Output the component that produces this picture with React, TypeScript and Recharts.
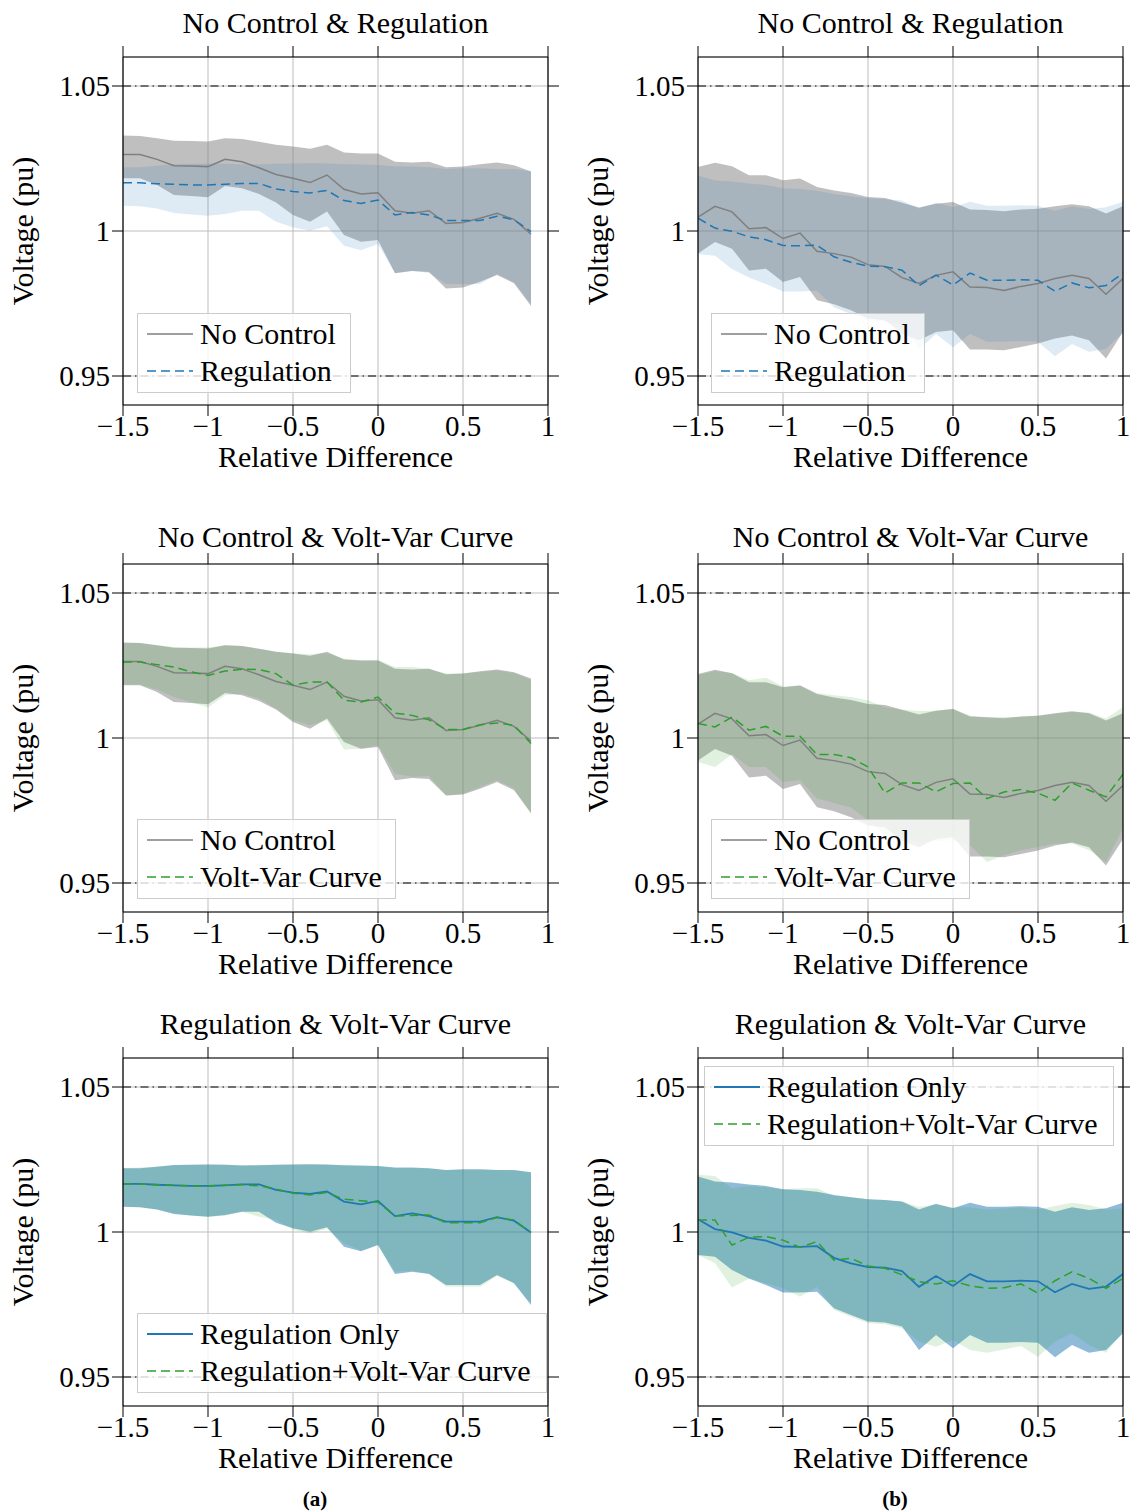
import React from 'react';
import {
  ComposedChart,
  Area,
  Line,
  XAxis,
  YAxis,
  CartesianGrid,
  ReferenceLine,
  Legend,
} from 'recharts';

const FONT = "'Liberation Serif', 'Times New Roman', serif";
const FS_TICK = 29;
const FS = 30;

// Relative difference sample points
const X_LEFT = [-1.5, -1.4, -1.3, -1.2, -1.1, -1.0, -0.9, -0.8, -0.7, -0.6, -0.5, -0.4, -0.3, -0.2, -0.1, 0.0, 0.1, 0.2, 0.3, 0.4, 0.5, 0.6, 0.7, 0.8, 0.9];
const X_RIGHT = [-1.5, -1.4, -1.3, -1.2, -1.1, -1.0, -0.9, -0.8, -0.7, -0.6, -0.5, -0.4, -0.3, -0.2, -0.1, 0.0, 0.1, 0.2, 0.3, 0.4, 0.5, 0.6, 0.7, 0.8, 0.9, 1.0];

const X_TICKS = [-1.5, -1, -0.5, 0, 0.5, 1];
const Y_TICKS = [0.95, 1, 1.05];
const Y_DOMAIN: [number, number] = [0.94, 1.06];
const V_MAX = 1.05;
const V_MIN = 0.95;

// ---- case (a) ----
const NC_A_MEAN = [1.0264, 1.0264, 1.0247, 1.0225, 1.0224, 1.0222, 1.0247, 1.0239, 1.0218, 1.0195, 1.0182, 1.0167, 1.0193, 1.0144, 1.0128, 1.0132, 1.0070, 1.0061, 1.0070, 1.0026, 1.0029, 1.0044, 1.0061, 1.0040, 0.9989];
const NC_A_HI = [1.0329, 1.0328, 1.0320, 1.0311, 1.0310, 1.0309, 1.0320, 1.0317, 1.0308, 1.0297, 1.0291, 1.0284, 1.0297, 1.0271, 1.0267, 1.0267, 1.0239, 1.0236, 1.0239, 1.0220, 1.0222, 1.0230, 1.0236, 1.0227, 1.0205];
const NC_A_LO = [1.0182, 1.0182, 1.0159, 1.0124, 1.0121, 1.0116, 1.0155, 1.0147, 1.0128, 1.0098, 1.0055, 1.0032, 1.0067, 0.9986, 0.9963, 0.9969, 0.9854, 0.9862, 0.9859, 0.9802, 0.9805, 0.9825, 0.9848, 0.9820, 0.9741];

const REG_A_MEAN = [1.0166, 1.0166, 1.0163, 1.0161, 1.0159, 1.0159, 1.0161, 1.0164, 1.0164, 1.0145, 1.0136, 1.0131, 1.0140, 1.0105, 1.0095, 1.0107, 1.0055, 1.0064, 1.0055, 1.0036, 1.0036, 1.0036, 1.0051, 1.0039, 0.9998];
const REG_A_HI = [1.0220, 1.0220, 1.0225, 1.0231, 1.0232, 1.0233, 1.0232, 1.0229, 1.0230, 1.0232, 1.0233, 1.0234, 1.0233, 1.0230, 1.0229, 1.0228, 1.0222, 1.0222, 1.0220, 1.0214, 1.0216, 1.0216, 1.0214, 1.0214, 1.0206];
const REG_A_LO = [1.0087, 1.0085, 1.0078, 1.0062, 1.0057, 1.0053, 1.0059, 1.0070, 1.0070, 1.0032, 1.0013, 1.0001, 1.0016, 0.9949, 0.9934, 0.9955, 0.9855, 0.9863, 0.9855, 0.9817, 0.9817, 0.9817, 0.9852, 0.9823, 0.9748];

const VV_A_MEAN = [1.0262, 1.0262, 1.0253, 1.0245, 1.0228, 1.0216, 1.0231, 1.0237, 1.0236, 1.0222, 1.0182, 1.0193, 1.0193, 1.0130, 1.0124, 1.0141, 1.0086, 1.0078, 1.0063, 1.0029, 1.0029, 1.0046, 1.0052, 1.0044, 0.9981];
const VV_A_HI = [1.0328, 1.0328, 1.0320, 1.0314, 1.0312, 1.0312, 1.0320, 1.0317, 1.0308, 1.0297, 1.0292, 1.0289, 1.0292, 1.0274, 1.0268, 1.0270, 1.0245, 1.0245, 1.0239, 1.0222, 1.0222, 1.0228, 1.0233, 1.0224, 1.0201];
const VV_A_LO = [1.0184, 1.0184, 1.0167, 1.0141, 1.0124, 1.0105, 1.0147, 1.0153, 1.0136, 1.0101, 1.0061, 1.0044, 1.0061, 0.9960, 0.9963, 0.9975, 0.9877, 0.9866, 0.9869, 0.9802, 0.9808, 0.9831, 0.9854, 0.9826, 0.9737];

const RVV_A_MEAN = [1.0166, 1.0165, 1.0163, 1.0161, 1.0159, 1.0159, 1.0161, 1.0163, 1.0159, 1.0148, 1.0134, 1.0128, 1.0136, 1.0113, 1.0108, 1.0103, 1.0055, 1.0057, 1.0059, 1.0032, 1.0032, 1.0032, 1.0050, 1.0041, 0.9998];
const RVV_A_HI = [1.0221, 1.0222, 1.0226, 1.0230, 1.0232, 1.0233, 1.0233, 1.0230, 1.0231, 1.0232, 1.0233, 1.0233, 1.0232, 1.0229, 1.0228, 1.0227, 1.0221, 1.0221, 1.0219, 1.0213, 1.0215, 1.0215, 1.0214, 1.0213, 1.0205];
const RVV_A_LO = [1.0087, 1.0085, 1.0078, 1.0064, 1.0057, 1.0053, 1.0056, 1.0070, 1.0053, 1.0041, 1.0009, 0.9995, 1.0012, 0.9961, 0.9936, 0.9955, 0.9863, 0.9866, 0.9857, 0.9811, 0.9811, 0.9811, 0.9848, 0.9823, 0.9754];

// ---- case (b) ----
const NC_B_MEAN = [1.0048, 1.0085, 1.0066, 1.0008, 1.0012, 0.9974, 0.9993, 0.9930, 0.9922, 0.9910, 0.9884, 0.9878, 0.9839, 0.9819, 0.9847, 0.9859, 0.9807, 0.9805, 0.9795, 0.9809, 0.9819, 0.9836, 0.9847, 0.9836, 0.9782, 0.9836];
const NC_B_HI = [1.0221, 1.0235, 1.0223, 1.0192, 1.0192, 1.0175, 1.0181, 1.0152, 1.0140, 1.0131, 1.0117, 1.0114, 1.0097, 1.0081, 1.0094, 1.0100, 1.0074, 1.0072, 1.0068, 1.0074, 1.0077, 1.0085, 1.0092, 1.0085, 1.0060, 1.0085];
const NC_B_LO = [0.9922, 0.9962, 0.9939, 0.9864, 0.9870, 0.9824, 0.9841, 0.9761, 0.9747, 0.9727, 0.9698, 0.9692, 0.9646, 0.9623, 0.9652, 0.9658, 0.9591, 0.9591, 0.9589, 0.9600, 0.9612, 0.9629, 0.9640, 0.9623, 0.9560, 0.9652];

const REG_B_MEAN = [1.0044, 1.0010, 0.9999, 0.9980, 0.9970, 0.9950, 0.9949, 0.9951, 0.9911, 0.9892, 0.9879, 0.9877, 0.9865, 0.9811, 0.9848, 0.9814, 0.9855, 0.9830, 0.9830, 0.9832, 0.9830, 0.9792, 0.9821, 0.9804, 0.9812, 0.9855];
const REG_B_HI = [1.0191, 1.0174, 1.0171, 1.0164, 1.0159, 1.0147, 1.0145, 1.0139, 1.0128, 1.0120, 1.0113, 1.0110, 1.0105, 1.0078, 1.0097, 1.0082, 1.0101, 1.0087, 1.0087, 1.0089, 1.0087, 1.0070, 1.0085, 1.0076, 1.0082, 1.0101];
const REG_B_LO = [0.9921, 0.9915, 0.9869, 0.9840, 0.9817, 0.9791, 0.9791, 0.9794, 0.9737, 0.9714, 0.9691, 0.9688, 0.9674, 0.9593, 0.9645, 0.9599, 0.9645, 0.9618, 0.9618, 0.9621, 0.9618, 0.9568, 0.9610, 0.9584, 0.9593, 0.9651];

const VV_B_MEAN = [1.0050, 1.0038, 1.0072, 1.0027, 1.0040, 1.0006, 1.0006, 0.9943, 0.9943, 0.9932, 0.9900, 0.9810, 0.9845, 0.9845, 0.9814, 0.9843, 0.9845, 0.9791, 0.9814, 0.9822, 0.9810, 0.9785, 0.9845, 0.9820, 0.9797, 0.9875];
const VV_B_HI = [1.0216, 1.0231, 1.0224, 1.0199, 1.0208, 1.0178, 1.0182, 1.0155, 1.0147, 1.0141, 1.0130, 1.0105, 1.0098, 1.0093, 1.0094, 1.0101, 1.0078, 1.0067, 1.0072, 1.0073, 1.0078, 1.0084, 1.0090, 1.0088, 1.0067, 1.0107];
const VV_B_LO = [0.9917, 0.9900, 0.9944, 0.9900, 0.9900, 0.9848, 0.9854, 0.9791, 0.9776, 0.9760, 0.9716, 0.9664, 0.9659, 0.9641, 0.9645, 0.9647, 0.9630, 0.9572, 0.9596, 0.9613, 0.9624, 0.9636, 0.9636, 0.9613, 0.9572, 0.9688];

const RVV_B_MEAN = [1.0041, 1.0041, 0.9955, 0.9982, 0.9984, 0.9972, 0.9947, 0.9967, 0.9903, 0.9909, 0.9883, 0.9875, 0.9852, 0.9829, 0.9821, 0.9832, 0.9814, 0.9806, 0.9808, 0.9821, 0.9789, 0.9832, 0.9863, 0.9840, 0.9806, 0.9840];
const RVV_B_HI = [1.0197, 1.0193, 1.0151, 1.0159, 1.0154, 1.0147, 1.0151, 1.0151, 1.0124, 1.0120, 1.0113, 1.0110, 1.0105, 1.0087, 1.0093, 1.0085, 1.0085, 1.0078, 1.0081, 1.0085, 1.0078, 1.0090, 1.0101, 1.0093, 1.0078, 1.0081];
const RVV_B_LO = [0.9921, 0.9892, 0.9809, 0.9840, 0.9823, 0.9806, 0.9777, 0.9811, 0.9731, 0.9708, 0.9685, 0.9682, 0.9668, 0.9622, 0.9604, 0.9628, 0.9593, 0.9584, 0.9595, 0.9607, 0.9570, 0.9622, 0.9651, 0.9610, 0.9584, 0.9656];

const GRAY = '#7f7f7f';
const BLUE = '#1f77b4';
const GREEN = '#2ca02c';
const GRID = '#bdbdbd';
const DASH = '9 5';
const DASH_DOT = '8 4 1.5 4';

type Series = {
  name: string;
  mean: number[];
  lo: number[];
  hi: number[];
  color: string;
  bandOpacity: number;
  dashed: boolean;
  width: number;
};

type Panel = {
  title: string;
  col: number;
  plotTop: number;
  titleGap: number;
  xs: number[];
  a: Series;
  b: Series;
  legend: { left: number; top: number; width: number };
};

const ser = (
  name: string, mean: number[], lo: number[], hi: number[],
  color: string, bandOpacity: number, dashed: boolean, width = 1.5,
): Series => ({ name, mean, lo, hi, color, bandOpacity, dashed, width });

const CHART_W = 565;
const PLOT_OFFSET = 57; // distance from chart top to plot top
const TOP_AXIS_H = 1;
const RIGHT_AXIS_W = 1;
const PLOT_W = 425;
const PLOT_H = 348;
const X_AXIS_H = 75;
const CHART_H = PLOT_OFFSET + PLOT_H + X_AXIS_H;

// legend positions are given relative to the plot's top-left corner
const PANELS: Panel[] = [
  {
    title: 'No Control & Regulation', col: 0, plotTop: 57, titleGap: 24, xs: X_LEFT,
    a: ser('No Control', NC_A_MEAN, NC_A_LO, NC_A_HI, GRAY, 0.5, false),
    b: ser('Regulation', REG_A_MEAN, REG_A_LO, REG_A_HI, BLUE, 0.15, true),
    legend: { left: 14, top: 256, width: 214 },
  },
  {
    title: 'No Control & Regulation', col: 1, plotTop: 57, titleGap: 24, xs: X_RIGHT,
    a: ser('No Control', NC_B_MEAN, NC_B_LO, NC_B_HI, GRAY, 0.5, false),
    b: ser('Regulation', REG_B_MEAN, REG_B_LO, REG_B_HI, BLUE, 0.15, true),
    legend: { left: 13, top: 256, width: 214 },
  },
  {
    title: 'No Control & Volt-Var Curve', col: 0, plotTop: 564, titleGap: 17, xs: X_LEFT,
    a: ser('No Control', NC_A_MEAN, NC_A_LO, NC_A_HI, GRAY, 0.5, false),
    b: ser('Volt-Var Curve', VV_A_MEAN, VV_A_LO, VV_A_HI, GREEN, 0.15, true),
    legend: { left: 14, top: 255, width: 259 },
  },
  {
    title: 'No Control & Volt-Var Curve', col: 1, plotTop: 564, titleGap: 17, xs: X_RIGHT,
    a: ser('No Control', NC_B_MEAN, NC_B_LO, NC_B_HI, GRAY, 0.5, false),
    b: ser('Volt-Var Curve', VV_B_MEAN, VV_B_LO, VV_B_HI, GREEN, 0.15, true),
    legend: { left: 13, top: 255, width: 259 },
  },
  {
    title: 'Regulation & Volt-Var Curve', col: 0, plotTop: 1058, titleGap: 24, xs: X_LEFT,
    a: ser('Regulation Only', REG_A_MEAN, REG_A_LO, REG_A_HI, BLUE, 0.5, false, 1.8),
    b: ser('Regulation+Volt-Var Curve', RVV_A_MEAN, RVV_A_LO, RVV_A_HI, GREEN, 0.15, true),
    legend: { left: 14, top: 255, width: 410 },
  },
  {
    title: 'Regulation & Volt-Var Curve', col: 1, plotTop: 1058, titleGap: 24, xs: X_RIGHT,
    a: ser('Regulation Only', REG_B_MEAN, REG_B_LO, REG_B_HI, BLUE, 0.5, false, 1.8),
    b: ser('Regulation+Volt-Var Curve', RVV_B_MEAN, RVV_B_LO, RVV_B_HI, GREEN, 0.15, true),
    legend: { left: 6, top: 8, width: 410 },
  },
];

const fmtX = (v: number) => (v < 0 ? '\u2212' + String(Math.abs(v)) : String(v));
const fmtY = (v: number) => String(v);
const noLabel = () => '';

const tickStyle = { fontFamily: FONT, fontSize: FS_TICK, fill: '#000' };
const textStyle = { fontFamily: FONT, fontSize: FS, fill: '#000' };

const LegendBox = ({ items, width }: { items: Series[]; width: number }) => (
  <div
    style={{
      boxSizing: 'border-box',
      width,
      height: 80,
      border: '1.3px solid #cccccc',
      background: 'rgba(255,255,255,0.8)',
      padding: '1px 0 0 8px',
      fontFamily: FONT,
      fontSize: FS,
      color: '#000',
    }}
  >
    {items.map((s) => (
      <div key={s.name} style={{ display: 'flex', alignItems: 'center', height: 37, whiteSpace: 'nowrap' }}>
        <svg width={48} height={10} style={{ flex: 'none' }}>
          <line x1={1} x2={47} y1={5} y2={5} stroke={s.color} strokeWidth={s.width}
            strokeDasharray={s.dashed ? DASH : undefined} />
        </svg>
        <span style={{ marginLeft: 6, lineHeight: '37px' }}>{s.name}</span>
      </div>
    ))}
  </div>
);

const PanelChart = ({ p }: { p: Panel }) => {
  const yAxisW = p.col === 0 ? 123 : 133;
  const rightM = CHART_W - yAxisW - PLOT_W - RIGHT_AXIS_W;
  const rows = p.xs.map((x, i) => ({
    x,
    aMean: p.a.mean[i],
    bMean: p.b.mean[i],
    aBand: [p.a.lo[i], p.a.hi[i]],
    bBand: [p.b.lo[i], p.b.hi[i]],
  }));
  const x0 = p.xs[0];
  const x1 = p.xs[p.xs.length - 1];

  // x-axis caption below the plot and the panel title above it
  const xLabel = (props: any) => {
    const vb = props.viewBox;
    const cx = vb.x + vb.width / 2;
    return (
      <g>
        <text x={cx} y={vb.y + 62} textAnchor="middle" style={textStyle}>
          Relative Difference
        </text>
        <text x={cx} y={vb.y - PLOT_H - p.titleGap} textAnchor="middle" style={textStyle}>
          {p.title}
        </text>
      </g>
    );
  };
  const yLabel = (props: any) => {
    const vb = props.viewBox;
    const bx = vb.x + vb.width - 90;
    const cy = vb.y + vb.height / 2;
    return (
      <text x={bx} y={cy} textAnchor="middle" transform={`rotate(-90, ${bx}, ${cy})`} style={textStyle}>
        Voltage (pu)
      </text>
    );
  };

  return (
    <div style={{ position: 'absolute', left: p.col * CHART_W, top: p.plotTop - PLOT_OFFSET, width: CHART_W, height: CHART_H }}>
      <ComposedChart
        width={CHART_W}
        height={CHART_H}
        data={rows}
        margin={{ top: PLOT_OFFSET - TOP_AXIS_H, right: rightM, bottom: 0, left: 0 }}
      >
        <CartesianGrid xAxisId="b" yAxisId="l" stroke={GRID} strokeWidth={1} />
        <XAxis
          xAxisId="b" dataKey="x" type="number" domain={[-1.5, 1]} ticks={X_TICKS} interval={0}
          allowDataOverflow height={X_AXIS_H} tickSize={11} tickMargin={-1}
          tickFormatter={fmtX} tick={tickStyle}
          axisLine={{ stroke: '#000', strokeWidth: 1.2 }} tickLine={{ stroke: '#000', strokeWidth: 1 }}
          label={{ content: xLabel }}
        />
        <XAxis
          xAxisId="t" orientation="top" dataKey="x" type="number" domain={[-1.5, 1]} ticks={X_TICKS} interval={0}
          allowDataOverflow height={TOP_AXIS_H} tickSize={11} tickFormatter={noLabel} tick={tickStyle}
          axisLine={{ stroke: '#000', strokeWidth: 1.2 }} tickLine={{ stroke: '#000', strokeWidth: 1 }}
        />
        <YAxis
          yAxisId="l" type="number" domain={Y_DOMAIN} ticks={Y_TICKS} interval={0} allowDataOverflow
          width={yAxisW} tickSize={11} tickMargin={2} tickFormatter={fmtY} tick={tickStyle}
          axisLine={{ stroke: '#000', strokeWidth: 1.2 }} tickLine={{ stroke: '#000', strokeWidth: 1 }}
          label={{ content: yLabel }}
        />
        <YAxis
          yAxisId="r" orientation="right" type="number" domain={Y_DOMAIN} ticks={Y_TICKS} interval={0} allowDataOverflow
          width={RIGHT_AXIS_W} tickSize={11} tickFormatter={noLabel} tick={tickStyle}
          axisLine={{ stroke: '#000', strokeWidth: 1.2 }} tickLine={{ stroke: '#000', strokeWidth: 1 }}
        />
        <Area
          xAxisId="b" yAxisId="l" type="linear" dataKey="aBand" stroke="none"
          fill={p.a.color} fillOpacity={p.a.bandOpacity} isAnimationActive={false} activeDot={false} dot={false}
        />
        <Area
          xAxisId="b" yAxisId="l" type="linear" dataKey="bBand" stroke="none"
          fill={p.b.color} fillOpacity={p.b.bandOpacity} isAnimationActive={false} activeDot={false} dot={false}
        />
        <ReferenceLine
          xAxisId="b" yAxisId="l" segment={[{ x: x0, y: V_MAX }, { x: x1, y: V_MAX }]}
          stroke="#000" strokeWidth={1.2} strokeDasharray={DASH_DOT}
        />
        <ReferenceLine
          xAxisId="b" yAxisId="l" segment={[{ x: x0, y: V_MIN }, { x: x1, y: V_MIN }]}
          stroke="#000" strokeWidth={1.2} strokeDasharray={DASH_DOT}
        />
        <Line
          xAxisId="b" yAxisId="l" type="linear" dataKey="aMean" stroke={p.a.color} strokeWidth={p.a.width}
          dot={false} activeDot={false} isAnimationActive={false}
        />
        <Line
          xAxisId="b" yAxisId="l" type="linear" dataKey="bMean" stroke={p.b.color} strokeWidth={p.b.width}
          strokeDasharray={DASH} dot={false} activeDot={false} isAnimationActive={false}
        />
        <Legend
          layout="vertical" align="center" verticalAlign="middle"
          wrapperStyle={{
            left: yAxisW + p.legend.left,
            top: PLOT_OFFSET + p.legend.top,
            width: p.legend.width,
            height: 80,
          }}
          content={() => <LegendBox items={[p.a, p.b]} width={p.legend.width} />}
        />
      </ComposedChart>
    </div>
  );
};

const Caption = ({ text, x }: { text: string; x: number }) => (
  <div
    style={{
      position: 'absolute', left: x - 20, top: 1487, width: 40, textAlign: 'center',
      fontFamily: FONT, fontSize: 21, fontWeight: 'bold', lineHeight: '24px', color: '#000',
    }}
  >
    {text}
  </div>
);

export default function App() {
  return (
    <div style={{ position: 'absolute', left: 0, top: 0, width: 1130, height: 1512, background: '#fff', overflow: 'hidden' }}>
      {PANELS.map((p, i) => (
        <PanelChart key={i} p={p} />
      ))}
      <Caption text="(a)" x={315} />
      <Caption text="(b)" x={895} />
    </div>
  );
}
